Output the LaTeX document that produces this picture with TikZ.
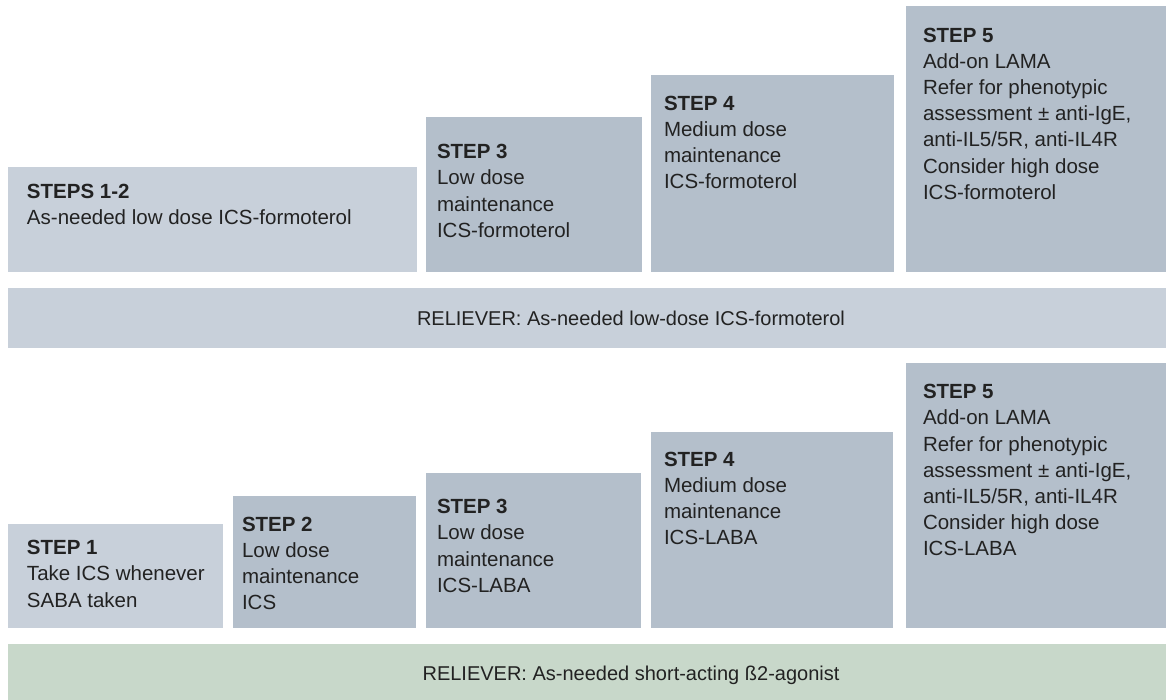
\documentclass[tikz,border=0pt]{standalone}
\usepackage{fontspec}
\setmainfont{Liberation Sans}
\definecolor{lightbox}{HTML}{C8D0DA}
\definecolor{darkbox}{HTML}{B4BFCB}
\definecolor{greenbar}{HTML}{C8D8CA}
\definecolor{txtcol}{HTML}{222222}
\tikzset{
  panel/.style={draw=none, inner sep=0pt, outer sep=0pt, anchor=north west},
  lightpanel/.style={panel, fill=lightbox},
  darkpanel/.style={panel, fill=darkbox},
  steptext/.style={anchor=north west, inner sep=0pt, outer sep=0pt, align=left, text=txtcol,
    font={\fontsize{20.5}{26.2}\selectfont}},
  relievertext/.style={anchor=base, inner sep=0pt, text=txtcol, font={\fontsize{20}{24}\selectfont}}
}
\begin{document}
\begin{tikzpicture}[x=1pt,y=-1pt]
\useasboundingbox (0,0) rectangle (1166,700);
% top row
\node[lightpanel, minimum width=409pt, minimum height=105pt] (s12) at (8,167) {};
\node[darkpanel, minimum width=216pt, minimum height=155pt] (t3) at (426,117) {};
\node[darkpanel, minimum width=243pt, minimum height=197pt] (t4) at (651,75) {};
\node[darkpanel, minimum width=260pt, minimum height=266pt] (t5) at (906,6) {};
\node[lightpanel, minimum width=1158pt, minimum height=60pt] (r1) at (8,288) {};
% bottom row
\node[lightpanel, minimum width=215pt, minimum height=104pt] (b1) at (8,524) {};
\node[darkpanel, minimum width=183pt, minimum height=132pt] (b2) at (233,496) {};
\node[darkpanel, minimum width=215pt, minimum height=155pt] (b3) at (426,473) {};
\node[darkpanel, minimum width=242pt, minimum height=196pt] (b4) at (651,432) {};
\node[darkpanel, minimum width=260pt, minimum height=265pt] (b5) at (906,363) {};
\node[panel, fill=greenbar, minimum width=1158pt, minimum height=56pt] (r2) at (8,644) {};

% texts (top)
\node[steptext] (s12t) at (27,184.3) {\textbf{STEPS 1-2}\\As-needed low dose ICS-formoterol};
\node[steptext] (t3t) at (437,144.3) {\textbf{STEP 3}\\Low dose\\maintenance\\ICS-formoterol};
\node[steptext] (t4t) at (664,96) {\textbf{STEP 4}\\Medium dose\\maintenance\\ICS-formoterol};
\node[steptext] (t5t) at (923,27.8) {\textbf{STEP 5}\\Add-on LAMA\\Refer for phenotypic\\assessment \textpm{} anti-IgE,\\anti-IL5/5R, anti-IL4R\\Consider high dose\\ICS-formoterol};
\node[relievertext] (r1t) at (631,325.7) {RELIEVER: As-needed low-dose ICS-formoterol};

% texts (bottom)
\node[steptext] (b1t) at (27,540.3) {\textbf{STEP 1}\\Take ICS whenever\\SABA taken};
\node[steptext] (b2t) at (242,517) {\textbf{STEP 2}\\Low dose\\maintenance\\ICS};
\node[steptext] (b3t) at (437,499.3) {\textbf{STEP 3}\\Low dose\\maintenance\\ICS-LABA};
\node[steptext] (b4t) at (664,452) {\textbf{STEP 4}\\Medium dose\\maintenance\\ICS-LABA};
\node[steptext] (b5t) at (923,384.3) {\textbf{STEP 5}\\Add-on LAMA\\Refer for phenotypic\\assessment \textpm{} anti-IgE,\\anti-IL5/5R, anti-IL4R\\Consider high dose\\ICS-LABA};
\node[relievertext] (r2t) at (631,680.7) {RELIEVER: As-needed short-acting ß2-agonist};
\end{tikzpicture}
\end{document}
